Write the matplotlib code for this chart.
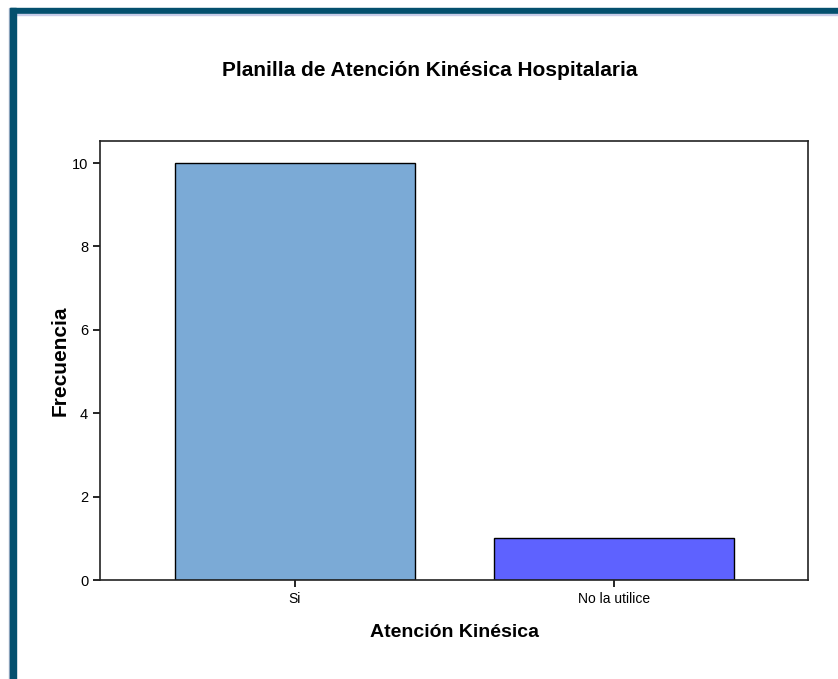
import matplotlib
matplotlib.use("Agg")
import matplotlib.pyplot as plt
from matplotlib.patches import Rectangle

categories = ["Si", "No la utilice"]
values = [10, 1]
colors = ["#7BAAD6", "#5E62FF"]
yticks = [0, 2, 4, 6, 8, 10]

W, H = 838, 679
fig = plt.figure(figsize=(W / 100, H / 100), dpi=100)
plt.rcParams['font.family'] = ['Liberation Sans', 'DejaVu Sans']

# frame bands
border = "#04506E"
fig.patches.append(Rectangle((10 / W, 1 - 14 / H), 1, 6 / H, transform=fig.transFigure,
                             color=border, zorder=0))
fig.patches.append(Rectangle((16 / W, 1 - 15 / H), 1, 1 / H, transform=fig.transFigure,
                             color="#C8CCE8", zorder=0))
fig.patches.append(Rectangle((9 / W, 0), 1 / W, 1 - 8 / H, transform=fig.transFigure,
                             color="#A8B4CC", zorder=0))
fig.patches.append(Rectangle((10 / W, 0), 6 / W, 1 - 8 / H, transform=fig.transFigure,
                             color=border, zorder=0))

ax = fig.add_axes([100 / W, 1 - 580 / H, 708 / W, 439 / H])
x = list(range(len(categories)))
ax.bar(x, values, width=0.75, color=colors, edgecolor="black", linewidth=1.0, zorder=2)
ax.set_xlim(-0.611, 1.608)
ax.set_ylim(0, 10.53)
ax.set_xticks(x)
ax.set_xticklabels(categories, fontsize=10)
ax.set_yticks(yticks)
ax.set_yticklabels([str(v) for v in yticks], fontsize=10.5)
ax.tick_params(axis='both', direction='out', length=5, width=1.2, colors="black")
for s in ax.spines.values():
    s.set_linewidth(1.2)
    s.set_color("#222222")
ax.set_ylabel("Frecuencia", fontsize=15, fontweight='bold')
ax.yaxis.set_label_coords(-30 / 708, 0.5)
ax.set_xlabel("Atención Kinésica", fontsize=14, fontweight='bold', labelpad=13)

fig.text(430 / W, 1 - 70 / H, "Planilla de Atención Kinésica Hospitalaria",
         ha='center', va='center', fontsize=15, fontweight='bold')

fig.savefig("out.png", dpi=100)
